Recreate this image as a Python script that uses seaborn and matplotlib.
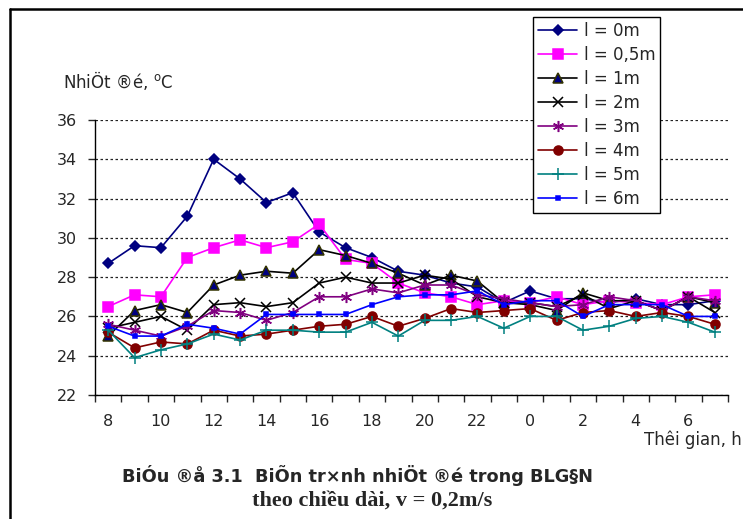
import numpy as np
import pandas as pd
import matplotlib
matplotlib.use('Agg')
import matplotlib.pyplot as plt
from matplotlib.lines import Line2D
import seaborn as sns

# hours of the day, the run goes through midnight
hours = [8, 9, 10, 11, 12, 13, 14, 15, 16, 17, 18, 19, 20, 21, 22, 23,
         0, 1, 2, 3, 4, 5, 6, 7]
tick_labels = ['8', '10', '12', '14', '16', '18', '20', '22', '0', '2', '4', '6']

t_0m = [28.7, 29.6, 29.5, 31.1, 34.0, 33.0, 31.8, 32.3, 30.3, 29.5, 29.0, 28.3,
        28.1, 27.7, 27.5, 26.7, 27.3, 26.9, 26.9, 26.7, 26.9, 26.6, 26.6, 26.8]
t_05m = [26.5, 27.1, 27.0, 29.0, 29.5, 29.9, 29.5, 29.8, 30.7, 28.9, 28.7, 27.7,
         27.2, 27.0, 26.6, 26.8, 26.7, 27.0, 26.6, 26.8, 26.7, 26.6, 27.0, 27.1]
t_1m = [25.0, 26.3, 26.6, 26.2, 27.6, 28.1, 28.3, 28.2, 29.4, 29.1, 28.7, 28.2,
        27.6, 28.1, 27.8, 26.7, 26.6, 26.3, 27.2, 26.8, 26.8, 26.3, 27.0, 26.7]
t_2m = [25.4, 25.7, 26.0, 25.3, 26.6, 26.7, 26.5, 26.7, 27.7, 28.0, 27.7, 27.7,
        28.1, 27.9, 27.0, 26.7, 26.7, 26.5, 27.1, 26.4, 26.8, 26.3, 27.0, 26.2]
t_3m = [25.6, 25.3, 25.0, 25.5, 26.3, 26.2, 25.8, 26.2, 27.0, 27.0, 27.4, 27.2,
        27.6, 27.6, 27.1, 26.9, 26.7, 26.5, 26.6, 27.0, 26.8, 26.3, 27.0, 26.8]
t_4m = [25.2, 24.4, 24.7, 24.6, 25.3, 25.0, 25.1, 25.3, 25.5, 25.6, 26.0, 25.5,
        25.9, 26.4, 26.2, 26.3, 26.4, 25.8, 26.2, 26.3, 26.0, 26.2, 26.0, 25.6]
t_5m = [25.3, 23.9, 24.3, 24.6, 25.1, 24.8, 25.3, 25.3, 25.2, 25.2, 25.7, 25.0,
        25.8, 25.8, 26.0, 25.4, 26.0, 26.0, 25.3, 25.5, 25.9, 26.0, 25.7, 25.2]
t_6m = [25.5, 25.0, 25.0, 25.6, 25.4, 25.1, 26.1, 26.1, 26.1, 26.1, 26.6, 27.0,
        27.1, 27.1, 27.3, 26.6, 26.8, 26.8, 26.0, 26.6, 26.6, 26.6, 26.0, 26.0]

labels = ['l = 0m', 'l = 0,5m', 'l = 1m', 'l = 2m', 'l = 3m', 'l = 4m', 'l = 5m', 'l = 6m']
series = [t_0m, t_05m, t_1m, t_2m, t_3m, t_4m, t_5m, t_6m]

# (line colour, marker, size, face, edge)
styles = [
    ('#000080', 'D', 5.5, '#000080', '#000080'),
    ('#FF00FF', 's', 6.5, '#FF00FF', '#FF00FF'),
    ('#000000', '^', 7, '#000080', '#333300'),
    ('#000000', 'x', 7, '#000000', '#000000'),
    ('#800080', (6, 2, 0), 8, '#800080', '#800080'),
    ('#800000', 'o', 6.5, '#800000', '#800000'),
    ('#008080', '+', 8, '#008080', '#008080'),
    ('#0000FF', 's', 3, '#0000FF', '#0000FF'),
]

sns.set_style('white')
# the original labels are wide, DejaVu Sans is closer than Arial here
plt.rcParams['font.family'] = ['DejaVu Sans']

fig = plt.figure(figsize=(7.43, 5.19), dpi=100)
ax = fig.add_axes([95 / 743, 1 - 395 / 519, (728 - 95) / 743, (395 - 120) / 519])

x = np.arange(len(hours))
for vals, lab, (c, m, ms, fc, ec) in zip(series, labels, styles):
    df = pd.DataFrame({'x': x, 'temp': vals})
    sns.lineplot(data=df, x='x', y='temp', ax=ax, color=c, marker=m, markersize=ms,
                 markerfacecolor=fc, markeredgecolor=ec, markeredgewidth=1.1,
                 linewidth=1.2, label=lab)

ax.set_xlim(-0.5, len(hours) - 0.5)
ax.set_ylim(22, 36)
ax.set_yticks(np.arange(22, 37, 2))
ax.tick_params(axis='y', labelsize=11.5, length=5, width=1, direction='out', left=True, pad=8)

# tick marks between categories, labels under every other category
ax.set_xticks(np.arange(-0.5, len(hours), 1))
ax.set_xticklabels([])
ax.set_xticks(np.arange(0, len(hours), 2), minor=True)
ax.set_xticklabels(tick_labels, minor=True)
ax.tick_params(axis='x', which='major', length=5, width=1, direction='out', bottom=True)
ax.tick_params(axis='x', which='minor', length=0, labelsize=11.5, pad=14)

ax.set_xlabel('')
ax.set_ylabel('')
ax.yaxis.grid(True, color='#222222', linestyle=(0, (2, 2)), linewidth=0.9)
ax.xaxis.grid(False)
for s in ['top', 'right']:
    ax.spines[s].set_visible(False)
for s in ['left', 'bottom']:
    ax.spines[s].set_color('black')
    ax.spines[s].set_linewidth(1)

leg = ax.legend(loc='upper left', bbox_to_anchor=(533 / 743, 1 - 17 / 519),
                bbox_transform=fig.transFigure, frameon=True, fancybox=False,
                edgecolor='black', fontsize=12, handlelength=2.35, labelspacing=0.36,
                borderpad=0.3, handletextpad=0.4, borderaxespad=0)
leg.get_frame().set_linewidth(1)
leg.get_frame().set_alpha(1)

fig.text(63 / 743, 1 - 81 / 519, 'NhiÖt ®é, $^{\\mathrm{o}}$C', fontsize=12, va='center', ha='left')
fig.text(742 / 743, 1 - 440 / 519, 'Thêi gian, h', fontsize=12, va='center', ha='right')
fig.text(122 / 743, 1 - 476 / 519, 'BiÓu ®å 3.1  BiÕn tr×nh nhiÖt ®é trong BLG§N',
         fontsize=12.8, fontweight='bold', va='center', ha='left')
fig.text(372 / 743, 1 - 501 / 519, 'theo chiều dài, v = 0,2m/s', fontsize=16,
         fontweight='bold', family=['Liberation Serif', 'DejaVu Serif'], va='center', ha='center')

# outer frame of the chart area, open at the right and bottom
fig.add_artist(Line2D([10 / 743, 1], [1 - 9 / 519, 1 - 9 / 519], transform=fig.transFigure,
                      color='black', linewidth=1.8))
fig.add_artist(Line2D([10 / 743, 10 / 743], [1 - 9 / 519, 0], transform=fig.transFigure,
                      color='black', linewidth=1.8))

fig.savefig('out.png', dpi=100)
